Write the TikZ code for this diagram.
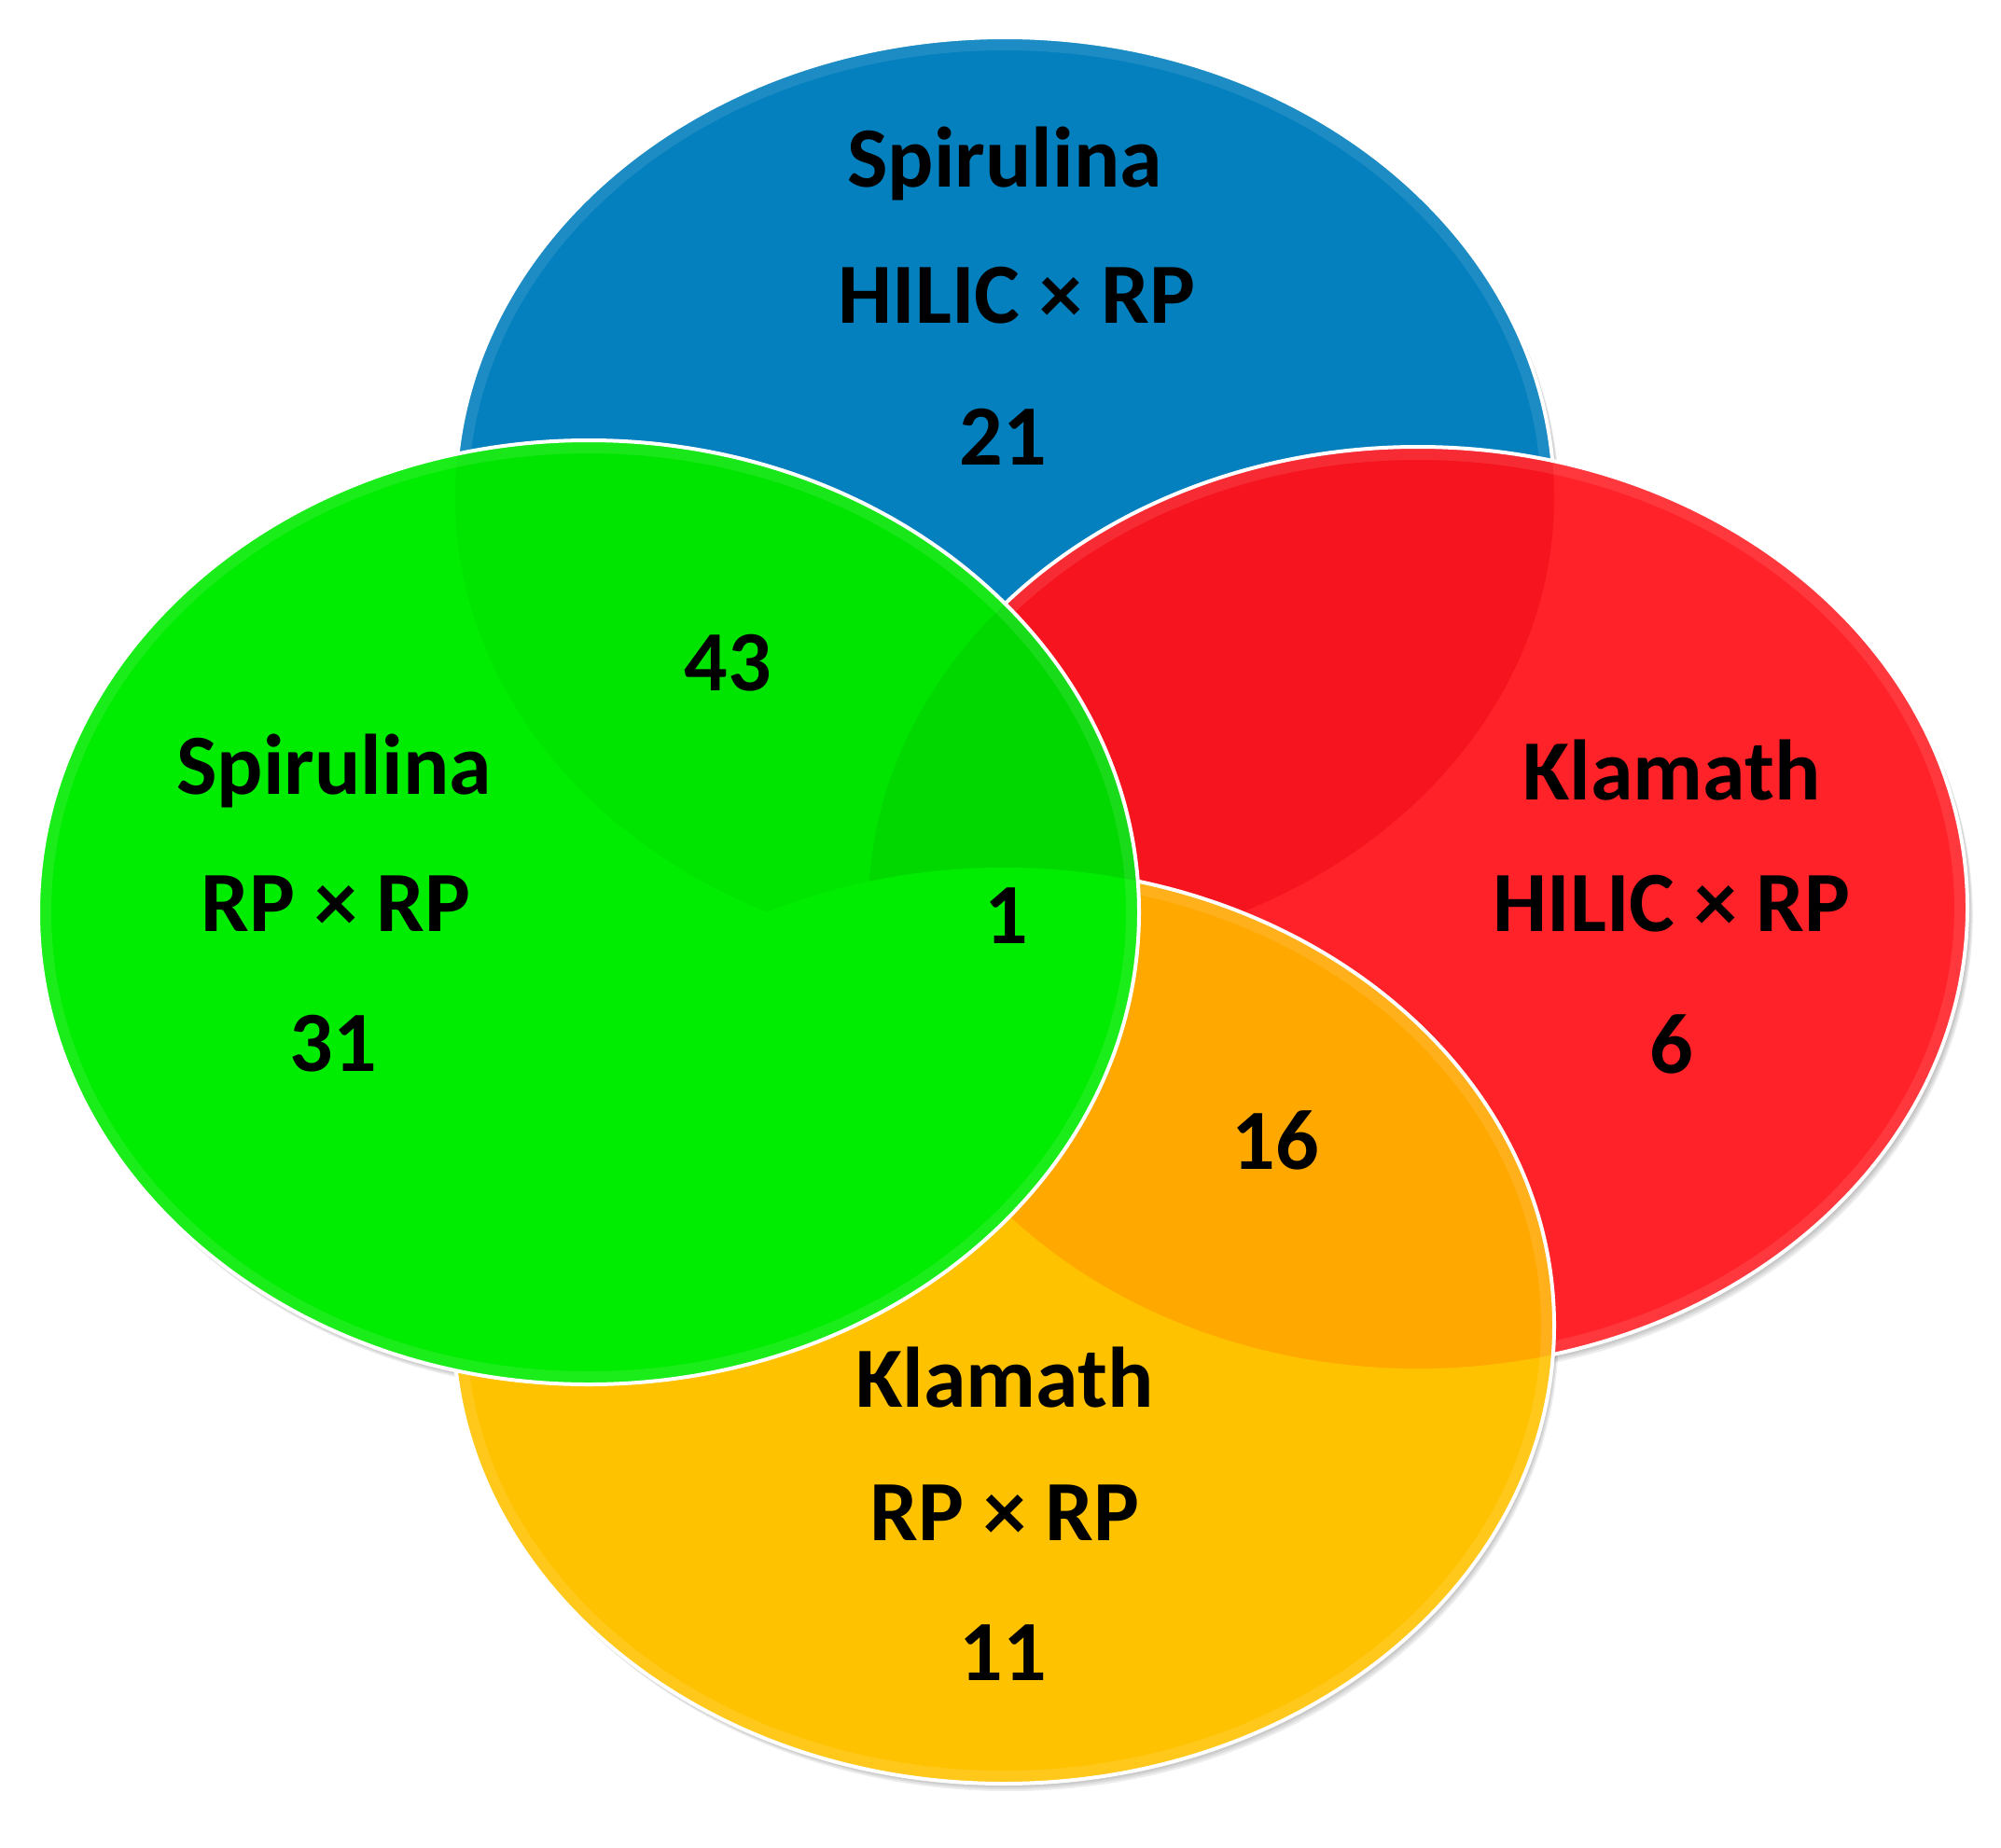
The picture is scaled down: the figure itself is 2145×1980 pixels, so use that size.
\documentclass[tikz,border=0pt]{standalone}
\usepackage{fontspec}
\setmainfont{Carlito}
\definecolor{cblue}{RGB}{4,128,190}
\definecolor{cgreen}{RGB}{0,236,0}
\definecolor{cgreenb}{RGB}{0,229,0}
\definecolor{cgreenr}{RGB}{0,216,0}
\definecolor{cred}{RGB}{255,34,40}
\definecolor{credb}{RGB}{246,20,30}
\definecolor{cyel}{RGB}{255,194,0}
\definecolor{corange}{RGB}{255,168,0}
\begin{document}
\begin{tikzpicture}[x=0.5pt,y=-0.5pt,
  lab/.style={font=\fontsize{46}{50}\selectfont\bfseries, text=black, inner sep=0pt, anchor=center},
  rim/.style={draw=white, line width=2pt},
  gloss/.style={draw=white, draw opacity=0.10, line width=14pt},
  shad/.style={fill=black, opacity=0.07}]
\fill[white] (0,0) rectangle (2145,1980);
\useasboundingbox (0,0) rectangle (2145,1980);
% centres
\coordinate (B) at (1077,533);
\coordinate (G) at (631,978);
\coordinate (R) at (1520,973);
\coordinate (Y) at (1076,1421);
\def\Bell{(B) ellipse [x radius=294.5pt, y radius=246.5pt]}
\def\Rell{(R) ellipse [x radius=294.5pt, y radius=247pt]}
\def\Yell{(Y) ellipse [x radius=295pt, y radius=245.5pt]}
\def\Gell{(G) ellipse [x radius=295pt, y radius=253pt]}
% shadows
\foreach \c/\ry in {B/246.5pt,G/253pt,R/247pt,Y/245.5pt}{
  \foreach \d in {2,4,6,8}{
    \fill[shad] ([shift={(\d*0.6,\d)}]\c) ellipse [x radius=295pt, y radius=\ry];
  }
}
% blue
\fill[cblue] \Bell;
\begin{scope}\clip \Bell; \draw[gloss] \Bell; \end{scope}
\draw[rim] \Bell;
% red
\fill[cred] \Rell;
\begin{scope}\clip \Rell; \fill[credb] \Bell; \draw[gloss] \Rell; \end{scope}
\draw[rim] \Rell;
% yellow
\fill[cyel] \Yell;
\begin{scope}\clip \Yell; \fill[corange] \Rell; \draw[gloss] \Yell; \end{scope}
\draw[rim] \Yell;
% green
\fill[cgreen] \Gell;
\begin{scope}\clip \Gell;
  \fill[cgreenb] \Bell;
  \fill[cgreenr] \Rell;
  \fill[cgreen] \Yell;
  \draw[gloss] \Gell;
\end{scope}
\draw[rim] \Gell;
% labels
\node[lab] (b1) at (1077,175) {Spirulina};
\node[lab] (b2) at (1090,317) {HILIC × RP};
\node[lab] (b3) at (1075,468) {21};
\node[lab] (g1) at (358,826) {Spirulina};
\node[lab] (g2) at (360,969) {RP × RP};
\node[lab] (g3) at (357,1119) {31};
\node[lab] (bg) at (780,711) {43};
\node[lab] (all) at (1079,982) {1};
\node[lab] (r1) at (1792,826) {Klamath};
\node[lab] (r2) at (1792,969) {HILIC × RP};
\node[lab] (r3) at (1792,1119) {6};
\node[lab] (ry) at (1367,1222) {16};
\node[lab] (y1) at (1077,1477) {Klamath};
\node[lab] (y2) at (1077,1622) {RP × RP};
\node[lab] (y3) at (1075,1772) {11};
\end{tikzpicture}
\end{document}
